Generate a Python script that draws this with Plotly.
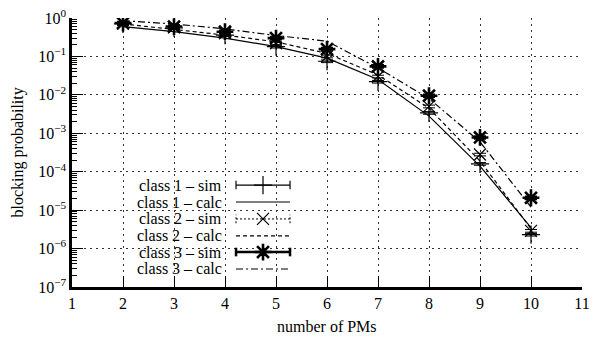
import plotly.graph_objects as go

# ---------------- data ----------------
pms = [2, 3, 4, 5, 6, 7, 8, 9, 10]
class1_sim = [0.70, 0.55, 0.36, 0.18, 0.075, 0.022, 0.0034, 0.00016, 2.3e-6]
class1_calc = [0.60, 0.44, 0.30, 0.18, 0.090, 0.025, 0.0028, 0.00014, 3.5e-6]
class2_sim = [0.72, 0.57, 0.40, 0.22, 0.100, 0.030, 0.0050, 0.00028, 2.9e-6]
class2_calc = [0.70, 0.50, 0.36, 0.24, 0.120, 0.033, 0.0045, 0.00019, 3.3e-6]
class3_sim = [0.74, 0.60, 0.44, 0.30, 0.155, 0.055, 0.0095, 0.00078, 2.1e-5]
class3_calc = [0.85, 0.70, 0.52, 0.35, 0.250, 0.050, 0.0080, 0.00060, 1.2e-5]

x_ticks = [1, 2, 3, 4, 5, 6, 7, 8, 9, 10, 11]
y_tickvals = [1, 1e-1, 1e-2, 1e-3, 1e-4, 1e-5, 1e-6, 1e-7]
y_ticktext = ["10<sup>0</sup>", "10<sup>−1</sup>", "10<sup>−2</sup>", "10<sup>−3</sup>",
              "10<sup>−4</sup>", "10<sup>−5</sup>", "10<sup>−6</sup>", "10<sup>−7</sup>"]

legend_labels = ["class 1 – sim", "class 1 – calc", "class 2 – sim",
                 "class 2 – calc", "class 3 – sim", "class 3 – calc"]

FONT = "Liberation Serif"
FS = 16
BLACK = "#000000"

fig = go.Figure()

# calc lines
fig.add_trace(go.Scatter(x=pms, y=class1_calc, mode="lines",
                         line=dict(color=BLACK, width=1.2), showlegend=False))
fig.add_trace(go.Scatter(x=pms, y=class2_calc, mode="lines",
                         line=dict(color=BLACK, width=1.2, dash="4px,3px"), showlegend=False))
fig.add_trace(go.Scatter(x=pms, y=class3_calc, mode="lines",
                         line=dict(color=BLACK, width=1.2, dash="7px,3px,2px,3px"), showlegend=False))

def mk(symbol, size, lw):
    return dict(symbol=symbol, size=size, color=BLACK, line=dict(color=BLACK, width=lw))

# sim points with small error bars
err = dict(type="percent", value=8, color=BLACK, thickness=1, width=6)
fig.add_trace(go.Scatter(x=pms, y=class1_sim, mode="markers",
                         marker=mk("cross-thin-open", 13, 1.2), error_y=err, showlegend=False))
fig.add_trace(go.Scatter(x=pms, y=class2_sim, mode="markers",
                         marker=mk("x-thin-open", 12, 1.2), error_y=err, showlegend=False))
fig.add_trace(go.Scatter(x=pms, y=class3_sim, mode="markers",
                         marker=mk("asterisk-open", 14, 2.6),
                         error_y=dict(type="percent", value=8, color=BLACK, thickness=2, width=6),
                         showlegend=False))

# ---------- manual gnuplot-style key on an overlay axis (0..1) ----------
row_y = [0.379, 0.316, 0.253, 0.190, 0.130, 0.067]
x0, x1, xm = 0.3216, 0.4275, 0.3745
cap = 0.016

def key_line(y, width, dash=None):
    fig.add_trace(go.Scatter(x=[x0, x1], y=[y, y], mode="lines", xaxis="x2", yaxis="y2",
                             line=dict(color=BLACK, width=width, dash=dash), showlegend=False,
                             hoverinfo="skip"))

def key_caps(y, width, dash=None):
    fig.add_trace(go.Scatter(x=[x0, x0, None, x1, x1], y=[y - cap, y + cap, None, y - cap, y + cap],
                             mode="lines", xaxis="x2", yaxis="y2",
                             line=dict(color=BLACK, width=width, dash=dash), showlegend=False,
                             hoverinfo="skip"))

def key_marker(y, symbol, size, lw):
    fig.add_trace(go.Scatter(x=[xm], y=[y], mode="markers", xaxis="x2", yaxis="y2",
                             marker=mk(symbol, size, lw), showlegend=False, hoverinfo="skip"))

key_line(row_y[0], 1.2); key_caps(row_y[0], 1.2); key_marker(row_y[0], "cross-thin-open", 13, 1.2)
key_line(row_y[1], 1.2)
key_line(row_y[2], 1.0, "2px,2px"); key_caps(row_y[2], 1.0, "2px,2px"); key_marker(row_y[2], "x-thin-open", 12, 1.2)
key_line(row_y[3], 1.2, "4px,3px")
key_line(row_y[4], 2.5); key_caps(row_y[4], 2.5); key_marker(row_y[4], "asterisk-open", 14, 2.6)
key_line(row_y[5], 1.2, "7px,3px,2px,3px")

annotations = []
for lab, y in zip(legend_labels, row_y):
    annotations.append(dict(text=lab, x=0.298, y=y, xref="x2", yref="y2", xanchor="right",
                            yanchor="middle", showarrow=False,
                            font=dict(family=FONT, size=FS, color=BLACK)))
# axis titles placed like the original
annotations.append(dict(text="blocking probability", x=-0.106, y=0.5, xref="paper", yref="paper",
                        xanchor="center", yanchor="middle", textangle=-90, showarrow=False,
                        font=dict(family=FONT, size=FS, color=BLACK)))
annotations.append(dict(text="number of PMs", x=0.5, y=-0.145, xref="paper", yref="paper",
                        xanchor="center", yanchor="middle", showarrow=False,
                        font=dict(family=FONT, size=FS, color=BLACK)))

# page body has an 8px margin, so the figure is offset by (8, 8)
fig.update_layout(
    width=600, height=333,
    margin=dict(l=64, r=26, t=10, b=54, autoexpand=False),
    paper_bgcolor="white", plot_bgcolor="white",
    font=dict(family=FONT, size=FS, color=BLACK),
    annotations=annotations,
    xaxis=dict(range=[1, 11], tickvals=x_ticks, ticks="inside", ticklen=11, tickwidth=1,
               tickcolor=BLACK, showline=True, linewidth=2.5, linecolor=BLACK, mirror=False,
               showgrid=True, gridcolor="#333333", gridwidth=1, griddash="2px,4px",
               zeroline=False, automargin=False, ticklabeloverflow="allow",
               tickfont=dict(family=FONT, size=FS)),
    yaxis=dict(type="log", range=[-7, 0], tickvals=y_tickvals, ticktext=y_ticktext,
               ticks="inside", ticklen=11, tickwidth=1, tickcolor=BLACK,
               minor=dict(ticks="inside", ticklen=5, tickcolor=BLACK, dtick="D1", showgrid=False),
               showline=True, linewidth=2.5, linecolor=BLACK, mirror=False,
               showgrid=True, gridcolor="#333333", gridwidth=1, griddash="2px,4px",
               zeroline=False, automargin=False, ticklabeloverflow="allow",
               tickfont=dict(family=FONT, size=FS)),
    xaxis2=dict(range=[0, 1], overlaying="x", visible=False, fixedrange=True),
    yaxis2=dict(range=[0, 1], overlaying="y", visible=False, fixedrange=True),
)

fig.write_html("out.html")
